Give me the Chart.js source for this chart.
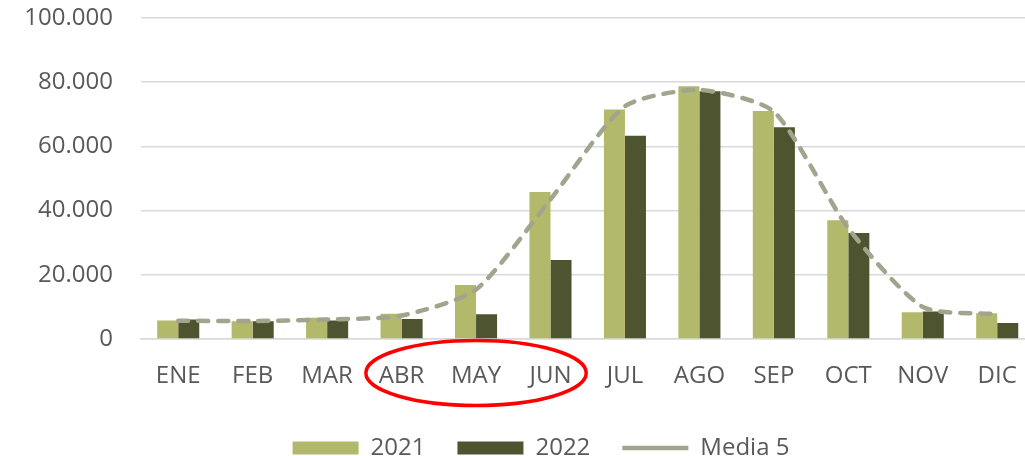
<!DOCTYPE html>
<html>
<head>
<meta charset="utf-8">
<script src="https://cdn.jsdelivr.net/npm/chart.js@4.4.1/dist/chart.umd.min.js"></script>
<style>
  html, body { margin: 0; padding: 0; background: #fff; overflow: hidden; }
  #wrap { width: 1040px; height: 470px; }
</style>
</head>
<body>
<div id="wrap"><canvas id="myChart" width="1040" height="470"></canvas></div>
<script>
'use strict';

var months = ['ENE', 'FEB', 'MAR', 'ABR', 'MAY', 'JUN', 'JUL', 'AGO', 'SEP', 'OCT', 'NOV', 'DIC'];
var serie2021 = [5800, 5500, 6600, 7900, 16800, 45800, 71500, 78700, 71000, 37000, 8300, 8000];
var serie2022 = [6100, 5500, 5800, 6200, 7700, 24600, 63300, 77200, 66000, 33000, 8600, 5000];
var media5 = [5700, 5600, 6100, 7300, 15400, 43500, 72500, 77600, 70800, 34500, 10000, 7700];
var yTicks = [0, 20000, 40000, 60000, 80000, 100000];

var textColor = '#595959';
var fontFamily = "'Open Sans', sans-serif";

function fmt(v) {
    return String(v).replace(/\B(?=(\d{3})+(?!\d))/g, '.');
}

// red ellipse around ABR-JUN labels
var ellipsePlugin = {
    id: 'ellipse',
    afterLayout: function (chart) {
        // legend in the original is centred on a slightly wider chart
        chart.legend.left += 23;
        chart.legend.right += 23;
    },
    afterDraw: function (chart) {
        var x = chart.scales.x;
        var ctx = chart.ctx;
        var step = x.getPixelForValue(1) - x.getPixelForValue(0);
        ctx.save();
        ctx.beginPath();
        ctx.ellipse(x.getPixelForValue(4), chart.chartArea.bottom + 34, step * 1.48, 32.5, 0, 0, Math.PI * 2);
        ctx.strokeStyle = '#FF0000';
        ctx.lineWidth = 3.5;
        ctx.stroke();
        ctx.restore();
    }
};

var ctx = document.getElementById('myChart').getContext('2d');
var chart = new Chart(ctx, {
    type: 'bar',
    data: {
        labels: months,
        datasets: [{
            label: '2021',
            backgroundColor: '#B3B96A',
            borderColor: '#B3B96A',
            data: serie2021,
            order: 1,
            pointStyle: 'rect'
        },
        {
            label: '2022',
            backgroundColor: '#4F5430',
            borderColor: '#4F5430',
            data: serie2022,
            order: 1,
            pointStyle: 'rect'
        },
        {
            label: 'Media 5',
            type: 'line',
            data: media5,
            borderColor: '#A2A58D',
            backgroundColor: '#A2A58D',
            borderWidth: 4.5,
            borderDash: [10, 10],
            borderCapStyle: 'round',
            tension: 0.22,
            pointRadius: 0,
            fill: false,
            order: 0,
            pointStyle: 'line'
        }]
    },
    options: {
        responsive: false,
        animation: false,
        datasets: {
            bar: { categoryPercentage: 0.565, barPercentage: 1.0 }
        },
        layout: { padding: { top: 18, left: 0, right: 4, bottom: 0 } },
        plugins: {
            title: { display: false },
            tooltip: { enabled: false },
            legend: {
                position: 'bottom',
                labels: {
                    color: textColor,
                    font: { family: fontFamily, size: 24 },
                    boxWidth: 66,
                    boxHeight: 13,
                    padding: 32,
                    usePointStyle: true,
                    pointStyleWidth: 66,
                    sort: function (a, b) { return a.datasetIndex - b.datasetIndex; }
                }
            }
        },
        scales: {
            x: {
                grid: { display: false, drawTicks: false },
                border: { color: '#D9D9D9', width: 1.5 },
                ticks: {
                    color: textColor,
                    font: { family: fontFamily, size: 24 },
                    padding: 23,
                    maxRotation: 0
                },
                afterFit: function (scale) { scale.height = 65; }
            },
            y: {
                min: 0,
                max: 100000,
                afterBuildTicks: function (scale) {
                    scale.ticks = yTicks.map(function (v) { return { value: v }; });
                },
                grid: { color: '#D9D9D9', lineWidth: 1.5, drawTicks: false },
                border: { display: false },
                ticks: {
                    color: textColor,
                    font: { family: fontFamily, size: 24 },
                    padding: 28,
                    callback: function (v) { return fmt(v); }
                },
                afterFit: function (scale) {
                    scale.width = 141;
                    scale.paddingTop = 0;
                    scale.paddingBottom = 0;
                }
            }
        }
    },
    plugins: [ellipsePlugin]
});
</script>
</body>
</html>
